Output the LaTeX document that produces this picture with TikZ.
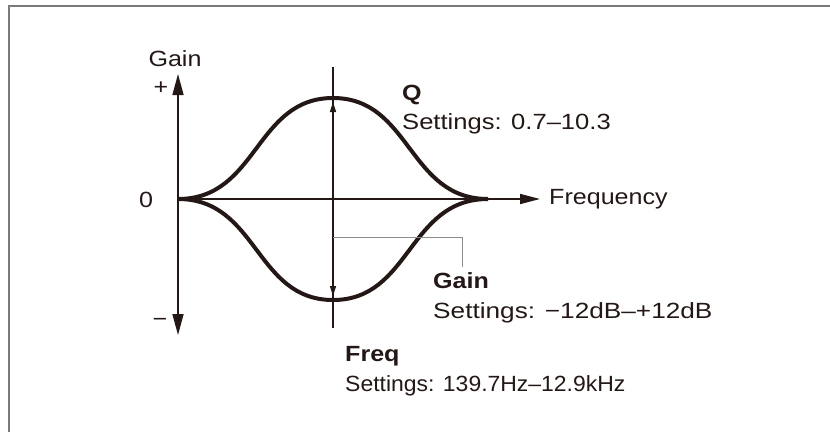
\documentclass[tikz,border=0pt]{standalone}
\usepackage{fontspec}
\usepackage{graphicx}
\setmainfont{Liberation Sans}[FakeStretch=1.14]
\usetikzlibrary{arrows.meta}
\definecolor{ink}{HTML}{231815}
\definecolor{framecol}{HTML}{7A7A7A}
\definecolor{leadcol}{HTML}{8C8C8C}
\begin{document}
\begin{tikzpicture}[x=1pt,y=-1pt,
  font=\fontsize{22}{26}\selectfont,
  txt/.style={inner sep=0pt, anchor=base west, text=ink},
  ctr/.style={inner sep=0pt, anchor=center, text=ink},
  axisline/.style={draw=ink, line width=1.6pt},
  qline/.style={draw=ink, line width=1.2pt},
  curveline/.style={draw=ink, line width=4pt},
  leadline/.style={draw=leadcol, line width=1pt},
  bigtip/.style={-{Triangle[length=21pt,width=11pt]}},
  smalltip/.style={-{Triangle[length=10pt,width=6pt]}}]
\useasboundingbox (0,0) rectangle (830,432);
\draw[framecol, line width=2pt] (9,432) -- (9,6) -- (830,6);
% axes
\coordinate (o) at (178,199);
\coordinate (ytop) at (178,74);
\coordinate (ybot) at (178,335);
\coordinate (xend) at (540,199);
\draw[axisline, bigtip] (o) -- (ytop);
\draw[axisline, bigtip] (o) -- (ybot);
\draw[axisline, -{Triangle[length=20pt,width=10pt]}] (o) -- (xend);
% curves
\draw[curveline] (178,199) .. controls (258,199) and (255,98) .. (333,98)
  .. controls (411,98) and (408,199) .. (488,199);
\draw[curveline] (178,199) .. controls (258,199) and (255,300) .. (333,300)
  .. controls (411,300) and (408,199) .. (488,199);
% Q / freq line
\coordinate (c) at (333,199);
\coordinate (qt) at (333,67);
\coordinate (qb) at (333,328);
\coordinate (pk) at (333,102);
\coordinate (tr) at (333,296);
\draw[qline] (qt) -- (qb);
\draw[qline, smalltip] (c) -- (pk);
\draw[qline, smalltip] (c) -- (tr);
% labels
\node[ctr] (gainax) at (175,59) {Gain};
\node[ctr] (plus) at (161,88) {+};
\node[ctr] (zero) at (146,200) {0};
\node[ctr] (minus) at (160,322) {\textminus};
\node[inner sep=0pt, anchor=west, text=ink] (freqax) at (549,199) {Frequency};
\node[txt] (q) at (402,100) {\textbf{Q}};
\node[txt] (qs) at (402,129) {\scalebox{1.02}[1]{Settings: 0.7–10.3}};
\node[txt] (g) at (433,288) {\textbf{Gain}};
\node[txt] (gs) at (433,318) {\scalebox{1.045}[1]{Settings: −12dB–+12dB}};
\node[txt] (f) at (345,361) {\textbf{Freq}};
\node[txt] (fs) at (345,391) {\scalebox{0.915}[1]{Settings: 139.7Hz–12.9kHz}};
% leader
\coordinate (l0) at (333,237);
\coordinate (l1) at (462,237);
\coordinate (l2) at (462,267);
\draw[leadline] (l0) -- (l1) -- (l2);
\end{tikzpicture}
\end{document}
